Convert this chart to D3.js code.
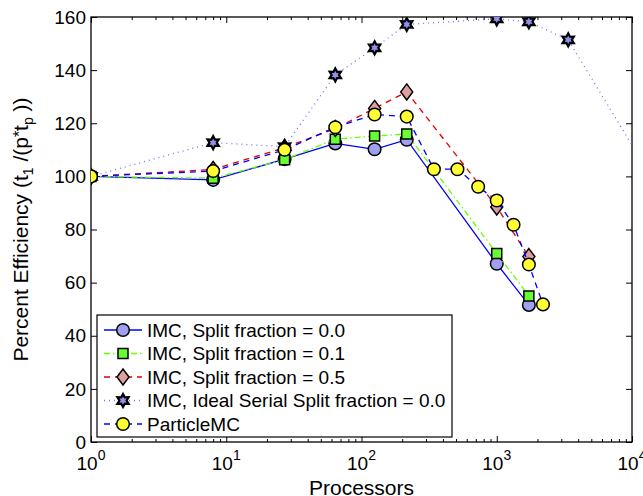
<!DOCTYPE html>
<html>
<head>
<meta charset="utf-8">
<script src="https://cdn.jsdelivr.net/npm/d3@7"></script>
<style>
  body { margin: 0; background: #fff; }
  svg { font-family: "Liberation Sans", Arial, sans-serif; }
</style>
</head>
<body>
<script>
const width = 643;
const height = 496;
const margin = { top: 17, right: 11, bottom: 54, left: 91 };

// processor counts
const procsIMC = [1, 8, 27, 64, 125, 216, 1000, 1728];
const procsIdeal = [1, 8, 27, 64, 125, 216, 1000, 1728, 3375, 13824];
const procsPMC = [1, 8, 27, 64, 125, 216, 343, 512, 729, 1000, 1331, 1728, 2197];

// percent efficiency
const split00 = [100, 98.7, 106.5, 112.4, 110.2, 113.8, 67.1, 51.6];
const split01 = [100, 99.3, 106.3, 114, 115.2, 116, 71, 55];
const split05 = [100, 102.6, 110.8, 118, 125.6, 131.8, 88.5, 69.8];
const idealSplit = [100, 112.7, 111.2, 138.2, 148.4, 157.2, 159.3, 158.2, 151.4, 100];
const particleMC = [100, 102, 110, 118.5, 123.3, 122.5, 102.7, 102.7, 96.1, 90.9, 81.8, 66.8, 51.8];

const xTicks = [1, 10, 100, 1000, 10000];
const xExp = ["0", "1", "2", "3", "4"];
const yTicks = [0, 20, 40, 60, 80, 100, 120, 140, 160];

const series = [
  { name: "IMC, Split fraction = 0.0", x: procsIMC, y: split00, color: "#0000ff", dash: null, marker: "circle", fill: "#a0a0f0" },
  { name: "IMC, Split fraction = 0.1", x: procsIMC, y: split01, color: "#66ff00", dash: "6,3,1.5,3", marker: "square", fill: "#66ff33" },
  { name: "IMC, Split fraction = 0.5", x: procsIMC, y: split05, color: "#e00000", dash: "6,5", marker: "diamond", fill: "#dda0a0" },
  { name: "IMC, Ideal Serial Split fraction = 0.0", x: procsIdeal, y: idealSplit, color: "#7070ff", dash: "1,4", marker: "star", fill: "#9090f0" },
  { name: "ParticleMC", x: procsPMC, y: particleMC, color: "#0000ff", dash: "6,5", marker: "circle", fill: "#ffff33" },
];

const svg = d3.select("body").append("svg")
  .attr("width", width)
  .attr("height", height);

const x = d3.scaleLog().domain([1, 10000]).range([margin.left, width - margin.right]);
const y = d3.scaleLinear().domain([0, 160]).range([height - margin.bottom, margin.top]);

svg.append("clipPath").attr("id", "clip")
  .append("rect")
  .attr("x", margin.left).attr("y", margin.top)
  .attr("width", x.range()[1] - margin.left)
  .attr("height", y(0) - margin.top);

// ticks
const minor = [];
for (let d = 1; d < 10000; d *= 10) for (let k = 2; k <= 9; k++) minor.push(d * k);

function tickAxis(axis, pos, size, values) {
  const g = svg.append("g").attr("transform", pos)
    .call(axis.tickValues(values).tickSize(size).tickFormat(""));
  g.select(".domain").remove();
  g.selectAll("line").attr("stroke", "#000").attr("stroke-width", 1);
  return g;
}
tickAxis(d3.axisBottom(x), `translate(0,${y(0)})`, -6, xTicks);
tickAxis(d3.axisBottom(x), `translate(0,${y(0)})`, -3, minor);
tickAxis(d3.axisTop(x), `translate(0,${margin.top})`, -6, xTicks);
tickAxis(d3.axisTop(x), `translate(0,${margin.top})`, -3, minor);
tickAxis(d3.axisLeft(y), `translate(${margin.left},0)`, -6, yTicks);
tickAxis(d3.axisRight(y), `translate(${x.range()[1]},0)`, -6, yTicks);

svg.append("rect")
  .attr("x", margin.left).attr("y", margin.top)
  .attr("width", x.range()[1] - margin.left)
  .attr("height", y(0) - margin.top)
  .attr("fill", "none").attr("stroke", "#000").attr("stroke-width", 1.3);

// tick labels
svg.append("g").selectAll("text")
  .data(yTicks)
  .join("text")
  .attr("x", margin.left - 5)
  .attr("y", (d) => y(d))
  .attr("dy", "0.35em")
  .attr("text-anchor", "end")
  .attr("font-size", 19)
  .text((d) => d);

const xl = svg.append("g").selectAll("text")
  .data(xTicks)
  .join("text")
  .attr("x", (d) => x(d))
  .attr("y", 470)
  .attr("text-anchor", "middle")
  .attr("font-size", 19);
xl.append("tspan").text("10");
xl.append("tspan").attr("dy", -10).attr("font-size", 14).text((d, i) => xExp[i]);

// axis titles
svg.append("text")
  .attr("x", (margin.left + x.range()[1]) / 2)
  .attr("y", 495)
  .attr("text-anchor", "middle")
  .attr("font-size", 21)
  .text("Processors");

const yl = svg.append("text")
  .attr("transform", `translate(28,${(margin.top + y(0)) / 2}) rotate(-90)`)
  .attr("text-anchor", "middle")
  .attr("font-size", 21);
yl.append("tspan").text("Percent Efficiency (t");
yl.append("tspan").attr("font-size", 14).attr("dy", 5).text("1");
yl.append("tspan").attr("dy", -5).text(" /(p");
yl.append("tspan").attr("font-size", 16).attr("dy", -3).text("*");
yl.append("tspan").attr("dy", 3).text("t");
yl.append("tspan").attr("font-size", 14).attr("dy", 5).text("p");
yl.append("tspan").attr("dy", -5).text(" ))");

// markers
function markerPath(type) {
  if (type === "circle") return d3.symbol(d3.symbolCircle, 125)();
  if (type === "square") return d3.symbol(d3.symbolSquare, 100)();
  if (type === "diamond") return "M0,-8L6,0L0,8L-6,0Z";
  const pts = [];
  for (let i = 0; i < 12; i++) {
    const a = (i * Math.PI) / 6 - Math.PI / 2;
    const r = i % 2 === 0 ? 6.5 : 3.6;
    pts.push([r * Math.cos(a), r * Math.sin(a)]);
  }
  return "M" + pts.join("L") + "Z";
}

const line = d3.line().x((d) => x(d[0])).y((d) => y(d[1]));
const plot = svg.append("g").attr("clip-path", "url(#clip)");

series.forEach((s) => {
  const pts = s.x.map((v, i) => [v, s.y[i]]);
  plot.append("path")
    .attr("d", line(pts))
    .attr("fill", "none")
    .attr("stroke", s.color)
    .attr("stroke-width", 1.3)
    .attr("stroke-dasharray", s.dash);
  plot.append("g").selectAll("path")
    .data(pts.filter((p) => p[0] <= 10000))
    .join("path")
    .attr("transform", (d) => `translate(${x(d[0])},${y(d[1])})`)
    .attr("d", markerPath(s.marker))
    .attr("fill", s.fill)
    .attr("stroke", "#000")
    .attr("stroke-width", s.marker === "star" ? 2.2 : 1.5);
});

// legend
const legend = svg.append("g");
legend.append("rect")
  .attr("x", 97).attr("y", 315)
  .attr("width", 355).attr("height", 122)
  .attr("fill", "#fff").attr("stroke", "#000").attr("stroke-width", 1.2);

const item = legend.selectAll("g.item")
  .data(series)
  .join("g")
  .attr("class", "item")
  .attr("transform", (d, i) => `translate(0,${330 + i * 23.5})`);
item.append("line")
  .attr("x1", 104).attr("x2", 142)
  .attr("stroke", (d) => d.color)
  .attr("stroke-width", 1.3)
  .attr("stroke-dasharray", (d) => d.dash);
item.append("path")
  .attr("transform", "translate(123,0)")
  .attr("d", (d) => markerPath(d.marker))
  .attr("fill", (d) => d.fill)
  .attr("stroke", "#000")
  .attr("stroke-width", (d) => (d.marker === "star" ? 2.2 : 1.5));
item.append("text")
  .attr("x", 147)
  .attr("dy", "0.35em")
  .attr("font-size", 19)
  .text((d) => d.name);
</script>
</body>
</html>
